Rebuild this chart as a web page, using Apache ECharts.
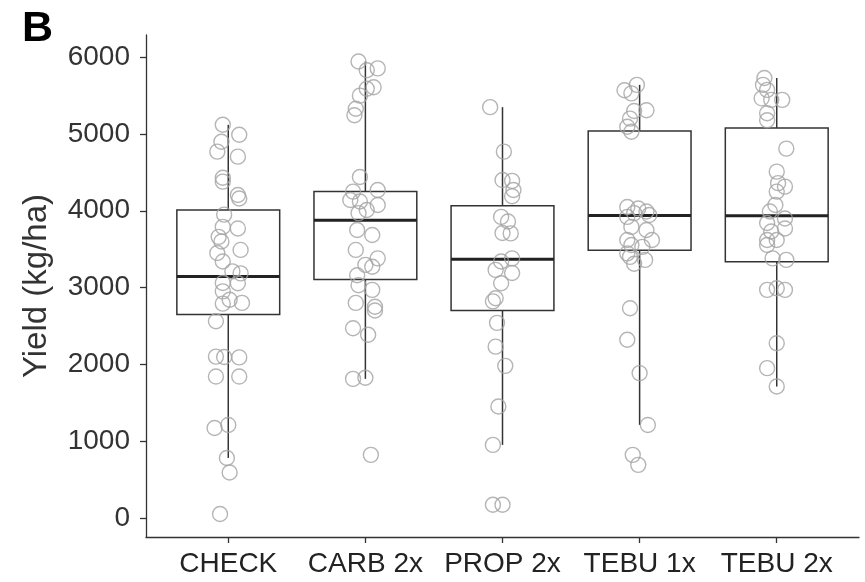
<!DOCTYPE html>
<html>
<head>
<meta charset="utf-8">
<script src="https://cdn.jsdelivr.net/npm/echarts@6/dist/echarts.min.js"></script>
<style>
  html, body { margin: 0; padding: 0; background: #fff; }
  #chart { width: 865px; height: 582px; }
</style>
</head>
<body>
<div id="chart"></div>
<script>
// Treatments on the x axis
const categories = ['CHECK', 'CARB 2x', 'PROP 2x', 'TEBU 1x', 'TEBU 2x'];

// Box statistics per treatment (kg/ha)
const boxMin    = [780, 1810, 950, 1210, 1710];
const boxQ1     = [2650, 3105, 2700, 3485, 3335];
const boxMedian = [3145, 3875, 3370, 3940, 3935];
const boxQ3     = [4010, 4250, 4065, 5040, 5080];
const boxMax    = [5120, 5945, 5350, 5640, 5730];

// Individual plot yields (kg/ha) and their horizontal jitter (category units)
const checkYield  = [5120, 4990, 4900, 4770, 4705, 4430, 4380, 4205, 4160, 3950, 3790, 3770, 3660, 3600, 3490, 3450, 3340, 3210, 3185, 3060, 3055, 2950, 2840, 2800, 2790, 2560, 2100, 2095, 2090, 1840, 1840, 1170, 1210, 780, 590, 50];
const checkJitter = [-0.04, 0.08, -0.05, -0.08, 0.07, -0.04, -0.04, 0.07, 0.08, -0.03, -0.04, 0.07, -0.07, -0.05, 0.09, -0.08, -0.04, 0.03, 0.09, -0.04, 0.07, -0.04, 0.01, 0.10, -0.04, -0.09, -0.09, -0.03, 0.08, -0.09, 0.08, -0.10, 0.0, -0.01, 0.01, -0.06];

const carbYield  = [5945, 5855, 5830, 5610, 5590, 5500, 5330, 5245, 4440, 4250, 4270, 4140, 4120, 4075, 4010, 3970, 3750, 3685, 3490, 3380, 3295, 3270, 3160, 3030, 2970, 2800, 2750, 2700, 2470, 2385, 1810, 1825, 820];
const carbJitter = [-0.05, 0.09, 0.01, 0.06, 0.01, -0.04, -0.07, -0.08, -0.04, -0.09, 0.09, -0.11, -0.04, 0.09, 0.01, -0.05, -0.06, 0.05, -0.07, 0.09, 0.0, 0.05, -0.06, -0.05, 0.05, -0.07, 0.07, 0.07, -0.09, 0.02, -0.09, 0.0, 0.04];

const propYield  = [5350, 4770, 4400, 4390, 4270, 4190, 3920, 3860, 3710, 3705, 3380, 3340, 3230, 3190, 3055, 2860, 2820, 2540, 2230, 1980, 1450, 950, 170, 170];
const propJitter = [-0.09, 0.01, 0.0, 0.07, 0.08, 0.07, -0.01, 0.04, 0.0, 0.06, 0.07, -0.01, -0.05, 0.07, -0.01, -0.05, -0.07, -0.04, -0.05, 0.02, -0.03, -0.07, -0.07, 0.0];

const tebu1Yield  = [5640, 5570, 5530, 5310, 5300, 5200, 5095, 5030, 4050, 4030, 3990, 3970, 3945, 3920, 3790, 3750, 3620, 3620, 3555, 3530, 3445, 3400, 3360, 3310, 2730, 2320, 1885, 1210, 820, 690];
const tebu1Jitter = [-0.02, -0.11, -0.06, 0.05, -0.04, -0.07, -0.09, -0.06, -0.09, -0.01, 0.05, -0.04, 0.07, -0.09, -0.06, 0.05, -0.09, 0.09, -0.06, 0.02, -0.09, -0.07, 0.04, -0.04, -0.07, -0.09, 0.0, 0.06, -0.05, -0.01];

const tebu2Yield  = [5730, 5640, 5575, 5465, 5445, 5445, 5270, 5180, 4810, 4510, 4360, 4315, 4250, 4075, 3990, 3900, 3840, 3770, 3730, 3620, 3620, 3555, 3380, 3360, 2990, 2970, 2970, 2275, 1950, 1710];
const tebu2Jitter = [-0.09, -0.10, -0.07, -0.11, -0.04, 0.04, -0.07, -0.07, 0.07, 0.0, 0.01, 0.06, 0.0, -0.01, -0.05, 0.06, -0.07, 0.06, -0.04, -0.07, 0.0, -0.07, -0.03, 0.07, 0.0, -0.07, 0.06, 0.0, -0.07, 0.0];

// Y axis tick values
const yTicks = [0, 1000, 2000, 3000, 4000, 5000, 6000];

const groups = [
  [checkYield, checkJitter],
  [carbYield, carbJitter],
  [propYield, propJitter],
  [tebu1Yield, tebu1Jitter],
  [tebu2Yield, tebu2Jitter]
];

const pointData = [];
groups.forEach(function (g, i) {
  g[0].forEach(function (v, k) {
    pointData.push([i + 1 + g[1][k], v]);
  });
});

const boxData = categories.map(function (c, i) {
  return [i + 1, boxMin[i], boxQ1[i], boxMedian[i], boxQ3[i], boxMax[i]];
});

const FONT = '"Liberation Sans", Arial, Helvetica, sans-serif';
const LINE = '#333333';
const HALF_BOX = 0.375;

const chart = echarts.init(document.getElementById('chart'), null, { renderer: 'canvas' });

chart.setOption({
  animation: false,
  backgroundColor: '#ffffff',
  title: {
    text: 'B',
    left: 17,
    top: 3,
    textStyle: { fontFamily: FONT, fontSize: 43, fontWeight: 'bold', color: '#000' }
  },
  grid: { left: 146, right: 6, top: 35, bottom: 45, containLabel: false },
  xAxis: {
    type: 'value',
    min: 0.4,
    max: 5.6,
    splitLine: { show: false },
    axisLine: { show: true, onZero: false, lineStyle: { color: LINE, width: 1.3 } },
    axisTick: { show: true, length: 6, customValues: [1, 2, 3, 4, 5], lineStyle: { color: LINE, width: 1.3 } },
    axisLabel: {
      customValues: [1, 2, 3, 4, 5],
      margin: 13,
      fontFamily: FONT,
      fontSize: 28,
      color: '#222',
      formatter: function (v) { return categories[Math.round(v) - 1]; }
    }
  },
  yAxis: {
    type: 'value',
    min: -250,
    max: 6290,
    name: 'Yield (kg/ha)',
    nameLocation: 'middle',
    nameGap: 93,
    nameTextStyle: { fontFamily: FONT, fontSize: 33, color: '#333' },
    splitLine: { show: false },
    axisLine: { show: true, onZero: false, lineStyle: { color: LINE, width: 1.3 } },
    axisTick: { show: true, length: 6, customValues: yTicks, lineStyle: { color: LINE, width: 1.3 } },
    axisLabel: {
      customValues: yTicks,
      margin: 16,
      fontFamily: FONT,
      fontSize: 28,
      color: '#333',
      formatter: function (v) { return String(v); }
    }
  },
  series: [
    {
      type: 'custom',
      name: 'box',
      data: boxData,
      z: 2,
      renderItem: function (params, api) {
        const x = api.value(0);
        const lo = api.coord([x, api.value(1)]);
        const q1 = api.coord([x, api.value(2)]);
        const q3 = api.coord([x, api.value(4)]);
        const hi = api.coord([x, api.value(5)]);
        const bl = api.coord([x - HALF_BOX, api.value(2)]);
        const tr = api.coord([x + HALF_BOX, api.value(4)]);
        const ml = api.coord([x - HALF_BOX, api.value(3)]);
        const mr = api.coord([x + HALF_BOX, api.value(3)]);
        const thin = { stroke: LINE, lineWidth: 1.5, fill: null };
        return {
          type: 'group',
          children: [
            { type: 'line', shape: { x1: lo[0], y1: lo[1], x2: q1[0], y2: q1[1] }, style: thin },
            { type: 'line', shape: { x1: q3[0], y1: q3[1], x2: hi[0], y2: hi[1] }, style: thin },
            { type: 'rect', shape: { x: bl[0], y: tr[1], width: tr[0] - bl[0], height: bl[1] - tr[1] }, style: { stroke: LINE, lineWidth: 1.5, fill: 'rgba(255,255,255,0)' } },
            { type: 'line', shape: { x1: ml[0], y1: ml[1], x2: mr[0], y2: mr[1] }, style: { stroke: '#222', lineWidth: 3 } }
          ]
        };
      }
    },
    {
      type: 'scatter',
      name: 'plots',
      data: pointData,
      z: 3,
      symbol: 'circle',
      symbolSize: 15,
      itemStyle: {
        color: 'rgba(255,255,255,0)',
        borderColor: '#a3a3a3',
        borderWidth: 1.4
      }
    }
  ]
});
</script>
</body>
</html>
